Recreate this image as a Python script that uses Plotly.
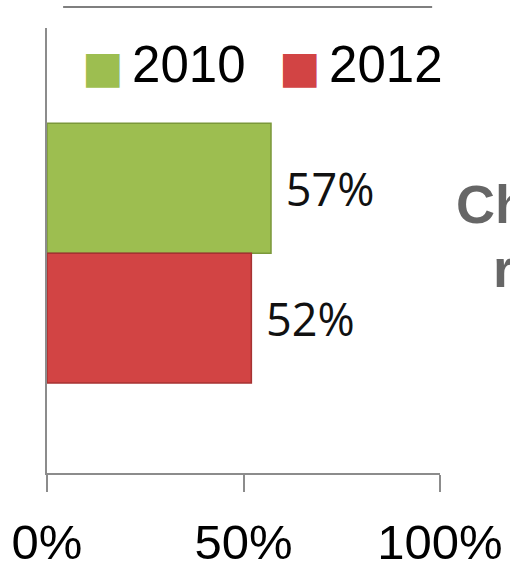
import plotly.graph_objects as go

# Survey share by year
categories = ["Share"]
years = ["2010", "2012"]
values_2010 = [57]
values_2012 = [52]
x_ticks = [0, 50, 100]
x_tick_labels = ["0%", "50%", "100%"]
side_title = ["Change", "rate"]

fills = {"2010": "#9dbe50", "2012": "#d24444"}
edges = {"2010": "#7b983a", "2012": "#a63232"}

fig = go.Figure()
for year, vals in zip(years, [values_2010, values_2012]):
    fig.add_trace(go.Bar(
        y=categories, x=vals, name=year, orientation="h",
        marker=dict(color=fills[year], line=dict(color=edges[year], width=1.5)),
        texttemplate="\u00a0%{x}%", textposition="outside",
        textfont=dict(family="Open Sans", size=45, color="#111111"),
        cliponaxis=False, showlegend=False,
    ))

# Legend row: coloured square followed by the year
legend_x = [0.084, 0.585]
for year, lx in zip(years, legend_x):
    fig.add_annotation(
        xref="paper", yref="paper", x=lx, y=0.919, xanchor="left", yanchor="middle",
        text=(f'<span style="font-family:DejaVu Sans;font-size:44px;color:{fills[year]}">\u25a0</span>'
              f'\u2006{year}'),
        showarrow=False, font=dict(family="Liberation Sans", size=51, color="#000000"),
    )

# Gray side heading, partly outside the canvas
fig.add_annotation(xref="paper", yref="paper", x=1.036, y=0.605, xanchor="left", yanchor="middle",
                   text=side_title[0], showarrow=False,
                   font=dict(family="Liberation Sans", size=54, color="#666666", weight="bold"))
fig.add_annotation(xref="paper", yref="paper", x=1.13, y=0.46, xanchor="left", yanchor="middle",
                   text=side_title[1], showarrow=False,
                   font=dict(family="Liberation Sans", size=54, color="#666666", weight="bold"))

# Thin rule above the chart
fig.add_shape(type="line", xref="paper", yref="paper", x0=0.041, x1=0.98, y0=1.047, y1=1.047,
              line=dict(color="#7f7f7f", width=2))

fig.update_layout(
    width=510, height=570,
    margin=dict(l=47, r=70, t=28, b=97, autoexpand=False),
    paper_bgcolor="white", plot_bgcolor="white",
    barmode="group", bargap=0.416, bargroupgap=0,
    xaxis=dict(range=[0, 100], tickvals=x_ticks, ticktext=x_tick_labels, automargin=False,
               showgrid=False, zeroline=False, showline=True, linecolor="#8c8c8c", linewidth=2,
               ticks="outside", ticklen=17, tickwidth=2, tickcolor="#8c8c8c",
               tickfont=dict(family="Liberation Sans", size=49, color="#000000"),
               ticklabelstandoff=8),
    yaxis=dict(range=[0.494, -0.506], showticklabels=False, showgrid=False, zeroline=False,
               automargin=False,
               showline=True, linecolor="#8c8c8c", linewidth=2, ticks=""),
)

fig.write_html("out.html")
